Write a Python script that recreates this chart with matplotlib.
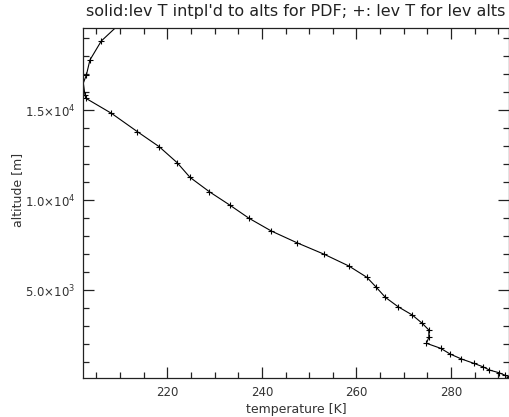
import matplotlib
matplotlib.use("Agg")
import matplotlib.pyplot as plt
from matplotlib.ticker import FixedLocator, MultipleLocator

temperature = [210.8, 206.05, 203.65, 202.9, 202.25, 202.6, 202.8, 208.2, 213.7, 218.3,
               222.1, 224.8, 228.9, 233.2, 237.3, 242.0, 247.4, 253.2, 258.4, 262.2,
               264.2, 266.1, 268.8, 271.8, 273.9, 275.3, 275.3, 274.8, 277.8, 279.8,
               282.2, 284.8, 286.7, 288.1, 290.1, 291.3, 292.25]
altitude = [20000, 18833, 17778, 16944, 16500, 15833, 15650, 14817, 13794, 12961,
            12072, 11261, 10461, 9722, 8983, 8278, 7628, 6983, 6333, 5706,
            5150, 4594, 4072, 3611, 3150, 2778, 2372, 2039, 1761, 1444,
            1167, 928, 739, 556, 406, 278, 183]
lev_T = temperature[1:4] + temperature[5:]
lev_alt = altitude[1:4] + altitude[5:]
line_T = temperature + [292.25]
line_alt = altitude + [128]

x_major = [220, 240, 260, 280]
y_major = [5000, 10000, 15000]
y_labels = [r'5.0$\times$10$^{3}$', r'1.0$\times$10$^{4}$', r'1.5$\times$10$^{4}$']
title = "solid:lev T intpl'd to alts for PDF; +: lev T for lev alts"

plt.rcParams['font.family'] = ['DejaVu Sans']
plt.rcParams['mathtext.fontset'] = 'dejavusans'

fig = plt.figure(figsize=(5.10, 4.17), dpi=100)
ax = fig.add_axes([83.3/510, 1-377.7/417, (509-83.3)/510, (377.7-28.3)/417])

ax.plot(line_T, line_alt, color='black', lw=0.8, clip_on=True)
ax.plot(lev_T, lev_alt, linestyle='none', marker='+', ms=5, mew=0.8, color='black')

ax.set_xlim(202.25, 292.25)
ax.set_ylim(128, 19540)

ax.xaxis.set_major_locator(FixedLocator(x_major))
ax.xaxis.set_minor_locator(MultipleLocator(5))
ax.yaxis.set_major_locator(FixedLocator(y_major))
ax.set_yticklabels(y_labels)
ax.yaxis.set_minor_locator(MultipleLocator(1000))

ax.tick_params(which='both', direction='in', top=True, right=True, color='#222222', width=0.9, labelsize=8.5, labelcolor='#333333')
ax.tick_params(which='major', length=8, pad=6)
ax.tick_params(which='minor', length=4)
for s in ax.spines.values():
    s.set_linewidth(0.9)
    s.set_color('#222222')

ax.set_xlabel('temperature [K]', fontsize=9, color='#333333', labelpad=3)
ax.set_ylabel('altitude [m]', fontsize=9, color='#333333')
ax.yaxis.set_label_coords(-0.14, 0.537)
ax.set_title(title, fontsize=11.5, color='#222222', pad=9)

fig.savefig('out.png', dpi=100)
